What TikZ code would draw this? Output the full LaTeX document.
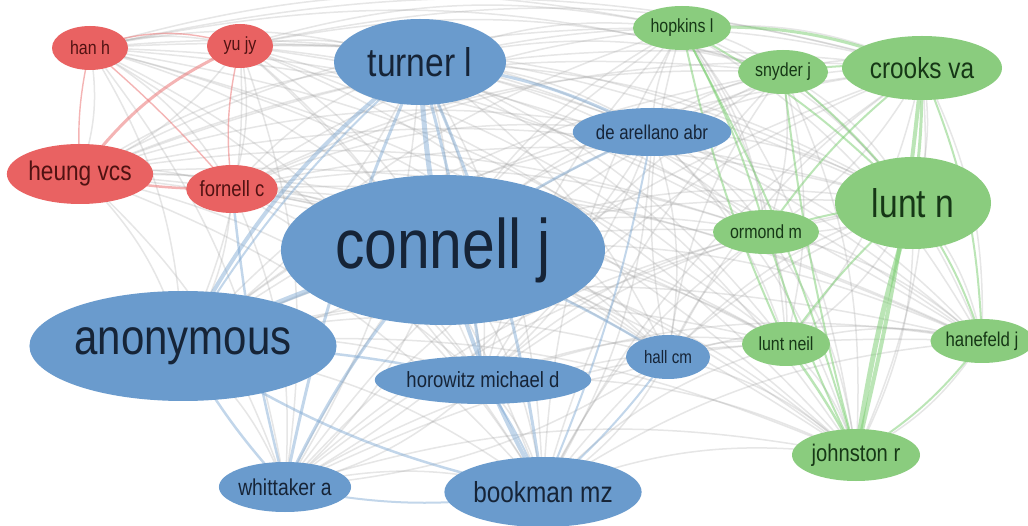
\documentclass[tikz,border=0pt]{standalone}
\usepackage{fontspec}
\setmainfont{Liberation Sans}[FakeStretch=0.84]
\usetikzlibrary{shapes.geometric}
\pgfdeclarelayer{paper}
\pgfdeclarelayer{edges}
\pgfsetlayers{paper,edges,main}
\definecolor{redfill}{RGB}{233,98,98}
\definecolor{bluefill}{RGB}{106,155,205}
\definecolor{greenfill}{RGB}{138,204,126}
\definecolor{redtxt}{RGB}{80,18,18}
\definecolor{bluetxt}{RGB}{22,36,55}
\definecolor{greentxt}{RGB}{22,55,22}
\definecolor{edgegray}{RGB}{160,160,160}
\definecolor{edgered}{RGB}{236,120,120}
\definecolor{edgeblue}{RGB}{120,165,210}
\definecolor{edgegreen}{RGB}{120,205,110}
\tikzset{
  author/.style={ellipse, inner sep=0pt, outer sep=0pt},
  redn/.style={author, fill=redfill, text=redtxt},
  bluen/.style={author, fill=bluefill, text=bluetxt},
  greenn/.style={author, fill=greenfill, text=greentxt},
  sz/.style n args={3}{minimum width=#1pt, minimum height=#2pt,
    font=\fontsize{#3}{#3}\selectfont},
  grayedge/.style={draw=edgegray, opacity=0.26, line width=1.5pt},
  rededge/.style={draw=edgered, opacity=0.55, line width=#1pt},
  blueedge/.style={draw=edgeblue, opacity=0.45, line width=#1pt},
  greenedge/.style={draw=edgegreen, opacity=0.5, line width=#1pt},
}
\begin{document}
\begin{tikzpicture}[x=1pt,y=-1pt]
\begin{pgfonlayer}{paper}
\fill[white] (0,0) rectangle (1028,526);
\end{pgfonlayer}
\useasboundingbox (0,0) rectangle (1028,526);

% red cluster
\node[redn, sz={76}{44}{19}] (hanh) at (90,48) {han h};
\node[redn, sz={66}{44}{19}] (yujy) at (240,46) {yu jy};
\node[redn, sz={144}{60}{27}] (heung) at (80,174) {heung vcs};
\node[redn, sz={90}{48}{22}] (fornell) at (232,189) {fornell c};
% blue cluster
\node[bluen, sz={172}{86}{40}] (turner) at (420,62) {turner l};
\node[bluen, sz={324}{150}{70}] (connell) at (443,250) {connell j};
\node[bluen, sz={300}{110}{50}] (anon) at (183,346) {anonymous};
\node[bluen, sz={150}{48}{20}] (arellano) at (652,132) {de arellano abr};
\node[bluen, sz={84}{44}{18}] (hallcm) at (668,357) {hall cm};
\node[bluen, sz={190}{48}{22}] (horowitz) at (483,380) {horowitz michael d};
\node[bluen, sz={132}{50}{23}] (whittaker) at (285,487) {whittaker a};
\node[bluen, sz={190}{70}{29}] (bookman) at (543,492) {bookman mz};
% green cluster
\node[greenn, sz={98}{44}{19}] (hopkins) at (682,28) {hopkins l};
\node[greenn, sz={90}{44}{19}] (snyder) at (783,72) {snyder j};
\node[greenn, sz={160}{64}{29}] (crooks) at (922,68) {crooks va};
\node[greenn, sz={156}{92}{40}] (luntn) at (913,203) {lunt n};
\node[greenn, sz={106}{44}{19}] (ormond) at (766,232) {ormond m};
\node[greenn, sz={88}{44}{19}] (luntneil) at (786,344) {lunt neil};
\node[greenn, sz={94}{44}{20}] (hanefeld) at (982,341) {hanefeld j};
\node[greenn, sz={128}{52}{24}] (johnston) at (856,455) {johnston r};

\begin{pgfonlayer}{edges}
% co-citation links between every pair of authors
\foreach \a [count=\i] in {hanh,yujy,heung,fornell,turner,connell,anon,arellano,hallcm,horowitz,whittaker,bookman,hopkins,snyder,crooks,luntn,ormond,luntneil,hanefeld,johnston}{
  \foreach \b [count=\j] in {hanh,yujy,heung,fornell,turner,connell,anon,arellano,hallcm,horowitz,whittaker,bookman,hopkins,snyder,crooks,luntn,ormond,luntneil,hanefeld,johnston}{
    \ifnum\j>\i
      \draw[grayedge] (\a.center) to[bend left=14] (\b.center);
    \fi
  }
}
% red links
\draw[rededge=1.4] (hanh.center) to[bend left=18] (yujy.center);
\draw[rededge=1.4] (hanh.center) to[bend right=8] (heung.center);
\draw[rededge=1.4] (hanh.center) to[bend left=4] (fornell.center);
\draw[rededge=3] (yujy.center) to[bend right=14] (heung.center);
\draw[rededge=1.4] (yujy.center) to[bend right=10] (fornell.center);
\draw[rededge=2.5] (heung.center) to[bend right=6] (fornell.center);
% blue links
\draw[blueedge=5] (connell.center) to[bend left=4] (turner.center);
\draw[blueedge=5] (connell.center) to[bend right=6] (anon.center);
\draw[blueedge=4] (turner.center) to[bend right=12] (anon.center);
\draw[blueedge=3] (turner.center) to[bend left=10] (arellano.center);
\draw[blueedge=3] (turner.center) to[bend left=8] (bookman.center);
\draw[blueedge=3] (turner.center) to[bend right=6] (whittaker.center);
\draw[blueedge=3] (turner.center) to[bend left=4] (horowitz.center);
\draw[blueedge=4] (connell.center) to[bend right=6] (bookman.center);
\draw[blueedge=3] (connell.center) to[bend right=8] (whittaker.center);
\draw[blueedge=2.5] (connell.center) to[bend left=6] (hallcm.center);
\draw[blueedge=2.5] (connell.center) to[bend left=6] (arellano.center);
\draw[blueedge=2.5] (anon.center) to[bend right=10] (bookman.center);
\draw[blueedge=2.5] (anon.center) to[bend right=6] (whittaker.center);
\draw[blueedge=2.5] (anon.center) to[bend left=6] (horowitz.center);
\draw[blueedge=2] (whittaker.center) to[bend right=10] (bookman.center);
\draw[blueedge=2] (horowitz.center) to[bend left=6] (bookman.center);
\draw[blueedge=2] (arellano.center) to[bend left=6] (bookman.center);
\draw[blueedge=2] (hallcm.center) to[bend left=6] (bookman.center);
\draw[blueedge=2.5] (fornell.center) to[bend right=4] (whittaker.center);
\draw[blueedge=2] (anon.center) to[bend left=8] (turner.center);
% green links
\draw[greenedge=3] (hopkins.center) to[bend left=12] (crooks.center);
\draw[greenedge=2] (hopkins.center) to[bend left=8] (luntn.center);
\draw[greenedge=2] (hopkins.center) to[bend right=6] (luntneil.center);
\draw[greenedge=2] (hopkins.center) to[bend left=6] (johnston.center);
\draw[greenedge=2] (snyder.center) to[bend left=6] (luntn.center);
\draw[greenedge=2] (snyder.center) to[bend right=4] (johnston.center);
\draw[greenedge=2] (snyder.center) to[bend left=6] (crooks.center);
\draw[greenedge=3] (crooks.center) to[bend left=4] (luntn.center);
\draw[greenedge=4] (crooks.center) to[bend left=4] (johnston.center);
\draw[greenedge=2] (crooks.center) to[bend left=10] (hanefeld.center);
\draw[greenedge=2] (crooks.center) to[bend right=8] (ormond.center);
\draw[greenedge=5] (luntn.center) to[bend right=4] (johnston.center);
\draw[greenedge=2] (luntn.center) to[bend left=8] (hanefeld.center);
\draw[greenedge=2] (luntn.center) to[bend right=6] (luntneil.center);
\draw[greenedge=2] (ormond.center) to[bend right=4] (johnston.center);
\draw[greenedge=2] (ormond.center) to[bend left=6] (luntn.center);
\draw[greenedge=2.5] (luntneil.center) to[bend left=4] (johnston.center);
\draw[greenedge=2] (hanefeld.center) to[bend left=10] (johnston.center);
\draw[greenedge=2] (ormond.center) to[bend right=6] (hopkins.center);
\end{pgfonlayer}
\end{tikzpicture}
\end{document}
